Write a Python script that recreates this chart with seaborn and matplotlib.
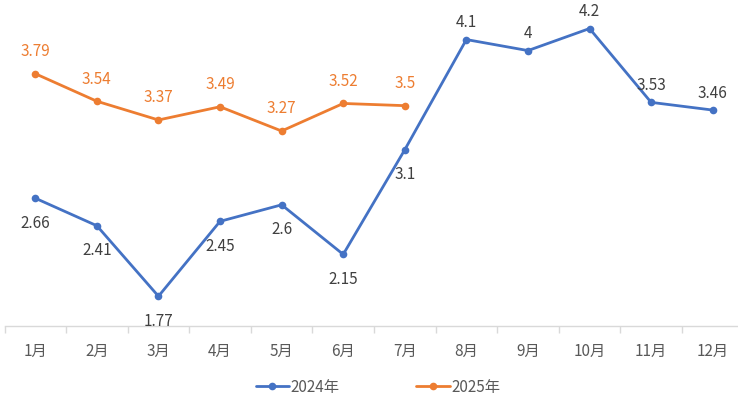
import pandas as pd
import matplotlib
matplotlib.use('Agg')
import matplotlib.pyplot as plt
import seaborn as sns
from matplotlib.lines import Line2D

months = ['1月', '2月', '3月', '4月', '5月', '6月', '7月', '8月', '9月', '10月', '11月', '12月']
values_2024 = [2.66, 2.41, 1.77, 2.45, 2.6, 2.15, 3.1, 4.1, 4, 4.2, 3.53, 3.46]
values_2025 = [3.79, 3.54, 3.37, 3.49, 3.27, 3.52, 3.5]
series_names = ['2024年', '2025年']
# label above (1) or below (-1) the 2024 points
pos_2024 = [-1, -1, -1, -1, -1, -1, -1, 1, 1, 1, 1, 1]

blue = '#4472C4'
orange = '#ED7D31'

sns.set_style('white')
plt.rcParams['font.family'] = ['Noto Sans CJK SC', 'DejaVu Sans']

df = pd.DataFrame({
    'idx': list(range(len(values_2024))) + list(range(len(values_2025))),
    'value': values_2024 + values_2025,
    'year': [series_names[0]] * len(values_2024) + [series_names[1]] * len(values_2025),
})

fig = plt.figure(figsize=(7.38, 3.99), dpi=100)
ax = fig.add_axes([4.5 / 738, 73 / 399, 739 / 738, 325 / 399])

sns.lineplot(data=df, x='idx', y='value', hue='year', palette=[blue, orange],
             marker='o', markersize=5.5, markeredgewidth=0, linewidth=2,
             legend=False, ax=ax)

for i, v in enumerate(values_2024):
    off = 12 if pos_2024[i] > 0 else -18
    ax.annotate(str(v), (i, v), xytext=(0, off), textcoords='offset points',
                ha='center', va='center', fontsize=11, color='#404040')
for i, v in enumerate(values_2025):
    ax.annotate(str(v), (i, v), xytext=(0, 16), textcoords='offset points',
                ha='center', va='center', fontsize=11, color=orange)

ax.set_xlim(-0.5, len(months) - 0.5)
ax.set_ylim(1.5, 4.45)
ax.set_xticks([i - 0.5 for i in range(len(months) + 1)])
ax.set_xticklabels([])
ax.set_xticks(range(len(months)), minor=True)
ax.set_xticklabels(months, minor=True, fontsize=11, color='#595959')
ax.tick_params(axis='x', which='major', bottom=True, length=5, color='#d9d9d9', width=1, direction='out')
ax.tick_params(axis='x', which='minor', bottom=True, length=0, pad=12)
ax.set_yticks([])
ax.set_xlabel('')
ax.set_ylabel('')
for s in ['top', 'right', 'left']:
    ax.spines[s].set_visible(False)
ax.spines['bottom'].set_color('#d9d9d9')
ax.spines['bottom'].set_linewidth(1)

handles = [Line2D([], [], color=c, linewidth=2, marker='o', markersize=5.5, markeredgewidth=0)
           for c in [blue, orange]]
leg = fig.legend(handles, series_names, loc='center', bbox_to_anchor=(0.512, 0.03),
                 ncol=2, frameon=False, fontsize=11, handlelength=2.2,
                 handletextpad=0.1, columnspacing=5)
for t in leg.get_texts():
    t.set_color('#595959')

fig.savefig('out.png', dpi=100)
